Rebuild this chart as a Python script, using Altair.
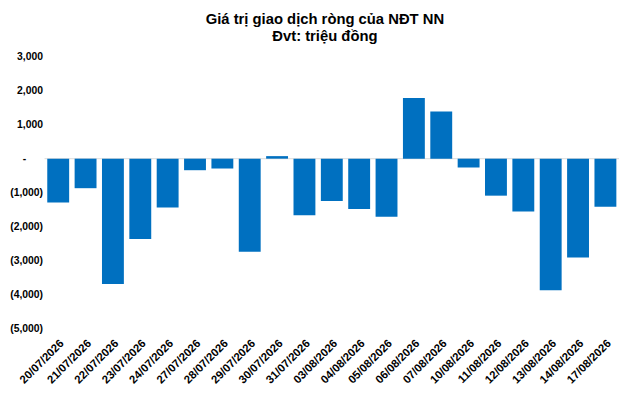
import altair as alt
import pandas as pd

dates = ["20/07/2026", "21/07/2026", "22/07/2026", "23/07/2026", "24/07/2026",
         "27/07/2026", "28/07/2026", "29/07/2026", "30/07/2026", "31/07/2026",
         "03/08/2026", "04/08/2026", "05/08/2026", "06/08/2026", "07/08/2026",
         "10/08/2026", "11/08/2026", "12/08/2026", "13/08/2026", "14/08/2026",
         "17/08/2026"]
values = [-1290, -870, -3690, -2370, -1440,
          -340, -290, -2740, 75, -1670,
          -1250, -1480, -1710, 1790, 1390,
          -260, -1090, -1560, -3880, -2910,
          -1420]
y_ticks = [3000, 2000, 1000, 0, -1000, -2000, -3000, -4000, -5000]

df = pd.DataFrame({"date": dates, "value": values})
FONT = "Liberation Sans"

y_axis = alt.Axis(values=y_ticks, grid=False, domain=False, ticks=False,
                  labelFontWeight="bold", labelFontSize=10.5, labelFont=FONT,
                  labelColor="#000000", labelOverlap=False, labelFlush=False,
                  labelPadding={"condition": {"test": "datum.value == 0", "value": 19}, "value": 2},
                  labelExpr="datum.value == 0 ? '-' : (datum.value < 0 ? '(' + format(-datum.value, ',') + ')' : format(datum.value, ','))")
y_scale = alt.Scale(domain=[-5000, 3000], nice=False)

bars = alt.Chart(df).mark_bar(color="#0070C0").encode(
    x=alt.X("date:N", sort=dates, title=None,
            scale=alt.Scale(paddingInner=0.2, paddingOuter=0.1),
            axis=alt.Axis(labelAngle=-45, labelFontWeight="bold", labelFontSize=11.5,
                          labelFont=FONT, labelColor="#000000", domain=False, ticks=False,
                          labelOverlap=False, labelPadding=9)),
    y=alt.Y("value:Q", title=None, scale=y_scale, axis=y_axis),
)

zero = alt.Chart(pd.DataFrame({"z": [0]})).mark_rule(color="#d9d9d9", strokeWidth=1).encode(
    y=alt.Y("z:Q", title=None, scale=y_scale, axis=y_axis)
)

chart = alt.layer(zero, bars).properties(
    width=582,
    height=275,
    title=alt.TitleParams(
        text=["Giá trị giao dịch ròng của NĐT NN", "Đvt: triệu đồng"],
        font=FONT, fontSize=15, fontWeight="bold", color="#000000",
        anchor="middle", lineHeight=17, offset=8, dx=-7),
    autosize=alt.AutoSizeParams(type="none"),
    padding={"left": 37, "top": 47, "right": 7, "bottom": 64},
).configure_view(stroke=None)

chart.save("out.html", embed_options={"renderer": "svg", "actions": False})
